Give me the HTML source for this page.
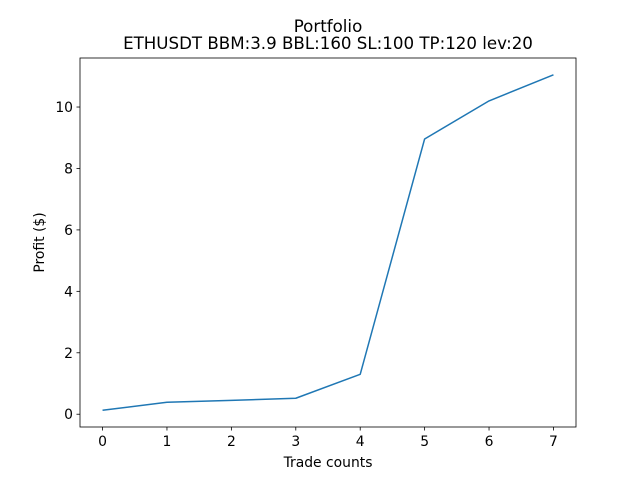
<!DOCTYPE html>
<html><head><meta charset="utf-8"><style>
body{margin:0;background:#fff;}
svg text{font-family:"DejaVu Sans","Liberation Sans",sans-serif;fill:#000;}
</style></head><body>
<svg id="chart" width="640" height="480" xmlns="http://www.w3.org/2000/svg">
<rect width="640" height="480" fill="#fff"/>
<text x="328" y="32" font-size="16.67" text-anchor="middle">Portfolio</text>
<text x="328" y="49" font-size="16.67" text-anchor="middle">ETHUSDT BBM:3.9 BBL:160 SL:100 TP:120 lev:20</text>
<g id="ticks"></g>
<path id="line" fill="none" stroke="#1f77b4" stroke-width="1.5" stroke-linejoin="round"/>
<rect x="80" y="58" width="496" height="369" fill="none" stroke="#000" stroke-width="0.8"/>
<text x="328" y="467" font-size="13.9" text-anchor="middle">Trade counts</text>
<text transform="translate(44,242.5) rotate(-90)" font-size="13.9" text-anchor="middle">Profit ($)</text>
</svg>
<script>
const trades=[0,1,2,3,4,5,6,7];
const profit=[0.13,0.39,0.45,0.52,1.3,8.96,10.2,11.05];
const xTicks=[0,1,2,3,4,5,6,7];
const yTicks=[0,2,4,6,8,10];
const L=80,R=576,T=58,B=427;
const xmin=-0.35,xmax=7.35;
const pmin=Math.min(...profit),pmax=Math.max(...profit),pad=(pmax-pmin)*0.05;
const ymin=pmin-pad,ymax=pmax+pad;
const X=v=>L+(v-xmin)/(xmax-xmin)*(R-L);
const Y=v=>B-(v-ymin)/(ymax-ymin)*(B-T);
const NS="http://www.w3.org/2000/svg",g=document.getElementById('ticks');
function mk(t,a){const e=document.createElementNS(NS,t);for(const k in a)e.setAttribute(k,a[k]);g.appendChild(e);return e;}
xTicks.forEach(v=>{const x=X(v);
const l=mk('line',{x1:x,x2:x,y1:B,y2:B+3.5,stroke:'#000','stroke-width':0.8});


const t=mk('text',{x:x,y:B+19,'font-size':13.9,'text-anchor':'middle'});t.textContent=v;

});
yTicks.forEach(v=>{const y=Y(v);
const l=mk('line',{x1:L-3.5,x2:L,y1:y,y2:y,stroke:'#000','stroke-width':0.8});


const t=mk('text',{x:L-7,y:y+5,'font-size':13.9,'text-anchor':'end'});t.textContent=v;

});
document.getElementById('line').setAttribute('d',trades.map((v,i)=>(i?'L':'M')+X(v)+','+Y(profit[i])).join(''));
</script>
</body></html>
